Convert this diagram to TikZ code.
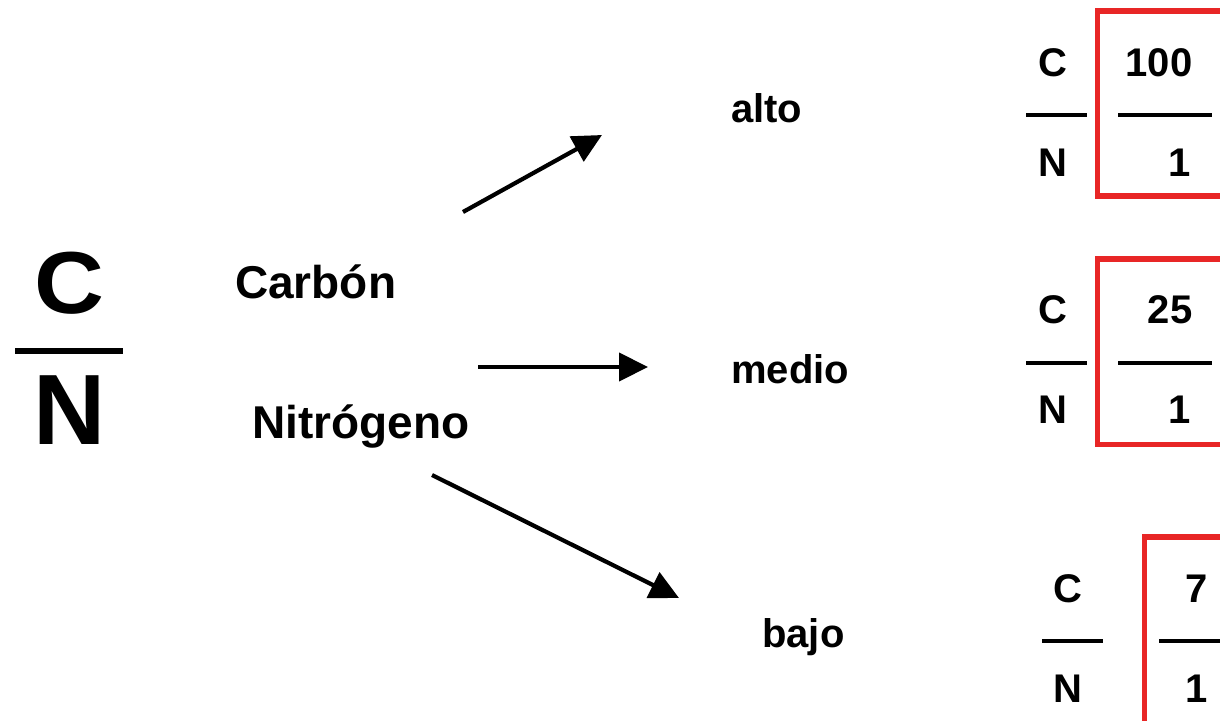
\documentclass[tikz,border=0pt]{standalone}
\usepackage{fontspec}
\setmainfont{Liberation Sans}
\usetikzlibrary{arrows.meta}
\definecolor{boxred}{RGB}{232,38,38}
\begin{document}
\begin{tikzpicture}[x=1pt,y=-1pt,
  lbl/.style={inner sep=0pt, anchor=base west, font=\fontsize{46}{50}\selectfont\bfseries},
  lvl/.style={inner sep=0pt, anchor=base west, font=\fontsize{40}{44}\selectfont\bfseries},
  frac/.style={inner sep=0pt, anchor=base, font=\fontsize{40}{44}\selectfont\bfseries},
  bar/.style={line width=4pt},
  redbox/.style={draw=boxred, line width=5.5pt},
  arr/.style={line width=4.2pt, -{Triangle[length=29pt,width=28pt]}}]
\useasboundingbox[fill=white] (0,0) rectangle (1220,720);

% big C/N
\node[inner sep=0pt, anchor=base, xscale=1.1, font=\fontsize{88}{92}\selectfont\bfseries] (bigC) at (69.5,313) {C};
\node[inner sep=0pt, anchor=base, font=\fontsize{100}{104}\selectfont\bfseries] (bigN) at (70,444) {N};
\coordinate (bigL) at (15,351);
\coordinate (bigR) at (123,351);
\draw[line width=6pt] (bigL) -- (bigR);

\node[lbl] (carbon) at (235,298) {Carbón};
\node[lbl] (nitro) at (252,438) {Nitrógeno};

\node[lvl] (alto) at (731,122) {alto};
\node[lvl] (medio) at (731,383) {medio};
\node[lvl] (bajo) at (762,647) {bajo};

% arrows
\coordinate (a1s) at (463,212);
\coordinate (a1e) at (602,135);
\coordinate (a2s) at (478,367);
\coordinate (a2e) at (648,367);
\coordinate (a3s) at (432,475);
\coordinate (a3e) at (679,598);
\draw[arr] (a1s) -- (a1e);
\draw[arr] (a2s) -- (a2e);
\draw[arr] (a3s) -- (a3e);

% box 1
\node[frac] (c1) at (1053,76) {C};
\node[frac] (n1) at (1053,176) {N};
\coordinate (b1a) at (1026,115); \coordinate (b1b) at (1087,115);
\draw[bar] (b1a) -- (b1b);
\node[frac] (v1) at (1159,76) {100};
\node[frac] (o1) at (1180,176) {1};
\coordinate (b1c) at (1118,115); \coordinate (b1d) at (1212,115);
\draw[bar] (b1c) -- (b1d);
\coordinate (r1a) at (1097.5,11); \coordinate (r1b) at (1260,196);
\draw[redbox] (r1a) rectangle (r1b);

% box 2
\node[frac] (c2) at (1053,323) {C};
\node[frac] (n2) at (1053,423) {N};
\coordinate (b2a) at (1026,362.5); \coordinate (b2b) at (1087,362.5);
\draw[bar] (b2a) -- (b2b);
\node[frac] (v2) at (1170,323) {25};
\node[frac] (o2) at (1180,423) {1};
\coordinate (b2c) at (1118,362.5); \coordinate (b2d) at (1212,362.5);
\draw[bar] (b2c) -- (b2d);
\coordinate (r2a) at (1097.5,259); \coordinate (r2b) at (1260,444.5);
\draw[redbox] (r2a) rectangle (r2b);

% box 3
\node[frac] (c3) at (1068,602) {C};
\node[frac] (n3) at (1068,702) {N};
\coordinate (b3a) at (1042,640.5); \coordinate (b3b) at (1103,640.5);
\draw[bar] (b3a) -- (b3b);
\node[frac] (v3) at (1197,602) {7};
\node[frac] (o3) at (1197,702) {1};
\coordinate (b3c) at (1159,640.5); \coordinate (b3d) at (1260,640.5);
\draw[bar] (b3c) -- (b3d);
\coordinate (r3a) at (1144.5,537); \coordinate (r3b) at (1260,760);
\draw[redbox] (r3a) rectangle (r3b);
\end{tikzpicture}
\end{document}
